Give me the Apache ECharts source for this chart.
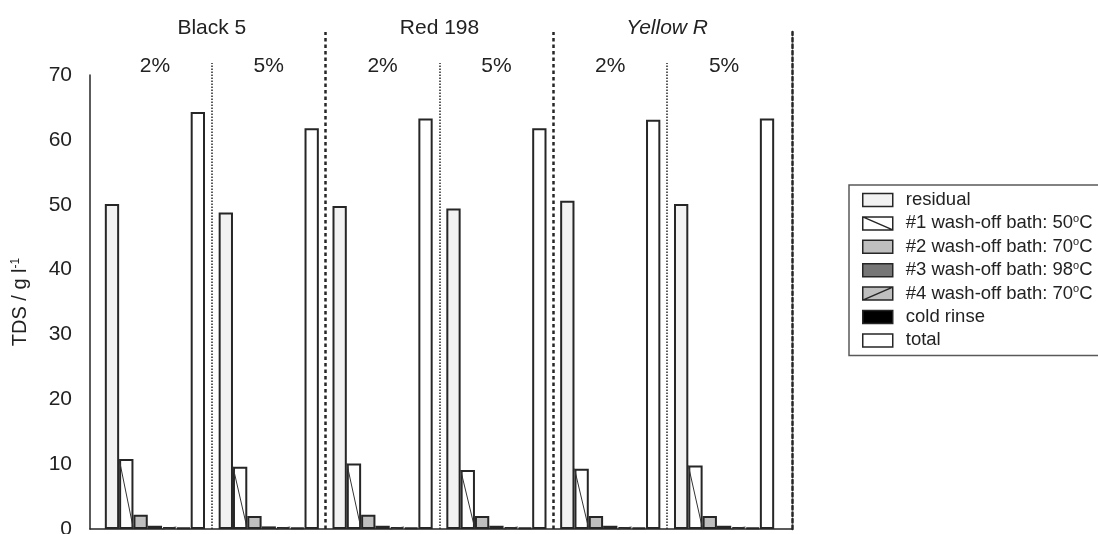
<!DOCTYPE html>
<html><head><meta charset="utf-8">
<script src="https://cdn.jsdelivr.net/npm/echarts@6/dist/echarts.min.js"></script>
<style>html,body{margin:0;padding:0;background:#fff}#c{width:1098px;height:534px}</style>
</head><body><div id="c"></div>
<script>
// ---- data ----
const dyes = ['Black 5', 'Red 198', 'Yellow R'];
const concentrations = ['2%', '5%'];
const categories = dyes.flatMap(d => concentrations.map(c => d + ' ' + c));
const seriesNames = ['residual', '#1 wash-off bath: 50°C', '#2 wash-off bath: 70°C',
  '#3 wash-off bath: 98°C', '#4 wash-off bath: 70°C', 'cold rinse', 'total'];
const residual  = [50.1, 48.8, 49.8, 49.4, 50.6, 50.1];
const bath1     = [10.8, 9.6, 10.1, 9.1, 9.3, 9.8];
const bath2     = [2.2, 2.0, 2.2, 2.0, 2.0, 2.0];
const bath3     = [0.5, 0.4, 0.5, 0.5, 0.5, 0.5];
const bath4     = [0.3, 0.3, 0.3, 0.3, 0.3, 0.3];
const coldRinse = [0.2, 0.2, 0.2, 0.2, 0.2, 0.2];
const total     = [64.3, 61.8, 63.3, 61.8, 63.1, 63.3];
const yTicks = { min: 0, max: 70, interval: 10 };

// ---- style ----
const FONT = '"Liberation Sans", Arial, sans-serif';
const TXT = '#222';
const EDGE = '#262626';
const CAT_GAP = 0.12;
const N_BARS = 7;
const values = [residual, bath1, bath2, bath3, bath4, coldRinse, total];
const fills = ['#f2f2f2', '#ffffff', '#bfbfbf', '#767676', '#bfbfbf', '#000000', '#ffffff'];
const icons = ['rect', 'path://M0,0H30V13H0Z M0,0L30,13', 'rect', 'rect',
  'path://M0,0H30V13H0Z M0,13L30,0', 'rect', 'rect'];

const barLeft = 98, barRight = 317, axRight = 306;
const barW = 1098 - barLeft - barRight, divW = 1098 - barLeft - axRight;

function diagonal(vals, barIndex, dir) {
  return {
    type: 'custom', xAxisIndex: 0, yAxisIndex: 0, silent: true, z: 4,
    data: vals.map((v, i) => [i, v]),
    encode: { x: 0, y: 1 },
    renderItem(params, api) {
      const top = api.coord([api.value(0), api.value(1)]);
      const base = api.coord([api.value(0), 0]);
      const cw = api.size([1, 0])[0];
      const bw = cw * (1 - CAT_GAP) / N_BARS;
      const x0 = top[0] - cw * (1 - CAT_GAP) / 2 + bw * barIndex;
      const x1 = x0 + bw;
      const shape = dir === 'down'
        ? { x1: x0, y1: top[1], x2: x1, y2: base[1] }
        : { x1: x0, y1: base[1], x2: x1, y2: top[1] };
      return { type: 'line', shape, style: { stroke: '#333', lineWidth: 1 } };
    }
  };
}

const bars = seriesNames.map((n, k) => ({
  name: n, type: 'bar', xAxisIndex: 0, yAxisIndex: 0,
  barGap: '0%', barCategoryGap: (CAT_GAP * 100) + '%',
  data: values[k], z: 3,
  itemStyle: { color: fills[k], borderColor: EDGE, borderWidth: 2 },
  emphasis: { disabled: true }
}));

const option = {
  animation: false,
  textStyle: { fontFamily: FONT },
  grid: [
    { left: barLeft, right: barRight, top: 75, bottom: 5, outerBoundsMode: 'none' },
    { left: 90, right: axRight, top: 75, bottom: 5, outerBoundsMode: 'none' },
    { left: barLeft, right: axRight, top: 32, bottom: 5, outerBoundsMode: 'none' },
    { left: barLeft, right: barRight, top: 63, bottom: 5, outerBoundsMode: 'none' }
  ],
  xAxis: [
    { type: 'category', gridIndex: 0, data: categories, position: 'top',
      axisLine: { show: false }, axisTick: { show: false }, splitLine: { show: false },
      axisLabel: { formatter: v => v.split(' ').pop(), fontSize: 21, color: TXT, margin: -2, fontFamily: FONT } },
    { type: 'value', gridIndex: 1, min: 0, max: 1,
      axisLine: { show: true, onZero: false, lineStyle: { color: EDGE, width: 1.5 } },
      axisTick: { show: false }, axisLabel: { show: false }, splitLine: { show: false } },
    { type: 'value', gridIndex: 2, min: 0, max: categories.length * divW / barW, show: false },
    { type: 'value', gridIndex: 3, min: 0, max: categories.length, show: false }
  ],
  yAxis: [
    { type: 'value', gridIndex: 0, min: yTicks.min, max: yTicks.max, show: false },
    { type: 'value', gridIndex: 1, min: yTicks.min, max: yTicks.max, interval: yTicks.interval,
      axisLine: { show: true, onZero: false, lineStyle: { color: EDGE, width: 1.5 } },
      axisTick: { show: false }, splitLine: { show: false },
      axisLabel: { fontSize: 21, color: TXT, margin: 18, fontFamily: FONT },
      name: 'TDS / g l{sup|-1}', nameLocation: 'middle', nameGap: 60, nameRotate: 90,
      nameTextStyle: { fontSize: 20, color: TXT, fontFamily: FONT,
        rich: { sup: { fontSize: 12, verticalAlign: 'top', color: TXT, fontFamily: FONT } } } },
    { type: 'value', gridIndex: 2, position: 'right', min: 0, max: 1,
      axisLine: { show: true, onZero: false, lineStyle: { color: EDGE, width: 2.5, type: [3.5, 3] } },
      axisTick: { show: false }, axisLabel: { show: false }, splitLine: { show: false } },
    { type: 'value', gridIndex: 3, min: 0, max: 1, show: false }
  ],
  legend: {
    orient: 'vertical', left: 849, top: 185,
    itemWidth: 30, itemHeight: 13, itemGap: 3.4,
    padding: [5, 60, 5, 13],
    borderColor: '#595959', borderWidth: 1.5,
    selectedMode: false,
    data: seriesNames.map((n, k) => ({ name: n, icon: icons[k] })),
    itemStyle: { borderColor: EDGE, borderWidth: 1.5 },
    formatter: n => n.replace('°', '{sup|o}'),
    textStyle: { fontSize: 18.5, color: TXT, lineHeight: 20, padding: [0, 0, 0, 8], fontFamily: FONT,
      rich: { sup: { fontSize: 11, verticalAlign: 'top', color: TXT, fontFamily: FONT } } }
  },
  series: [
    ...bars,
    diagonal(bath1, 1, 'down'),
    diagonal(bath4, 4, 'up'),
    { type: 'scatter', xAxisIndex: 2, yAxisIndex: 2, data: [], silent: true,
      markLine: { silent: true, symbol: 'none', animation: false,
        lineStyle: { color: EDGE, width: 2.5, type: [3.5, 3] },
        label: { show: false },
        data: dyes.slice(1).map((d, i) => ({ xAxis: concentrations.length * (i + 1) })) } },
    { type: 'scatter', xAxisIndex: 3, yAxisIndex: 3, data: [], silent: true,
      markLine: { silent: true, symbol: 'none', animation: false,
        lineStyle: { color: EDGE, width: 1.5, type: [1.5, 1.5] },
        label: { show: true, position: 'end', formatter: '{b}', fontSize: 21, color: TXT, distance: 24, fontFamily: FONT },
        data: dyes.map((d, i) => ({ name: d, xAxis: concentrations.length * i + 1,
          label: { fontStyle: d === 'Yellow R' ? 'italic' : 'normal' } })) } }
  ]
};
const chart = echarts.init(document.getElementById('c'), null, { renderer: 'canvas' });
chart.setOption(option);
</script></body></html>
